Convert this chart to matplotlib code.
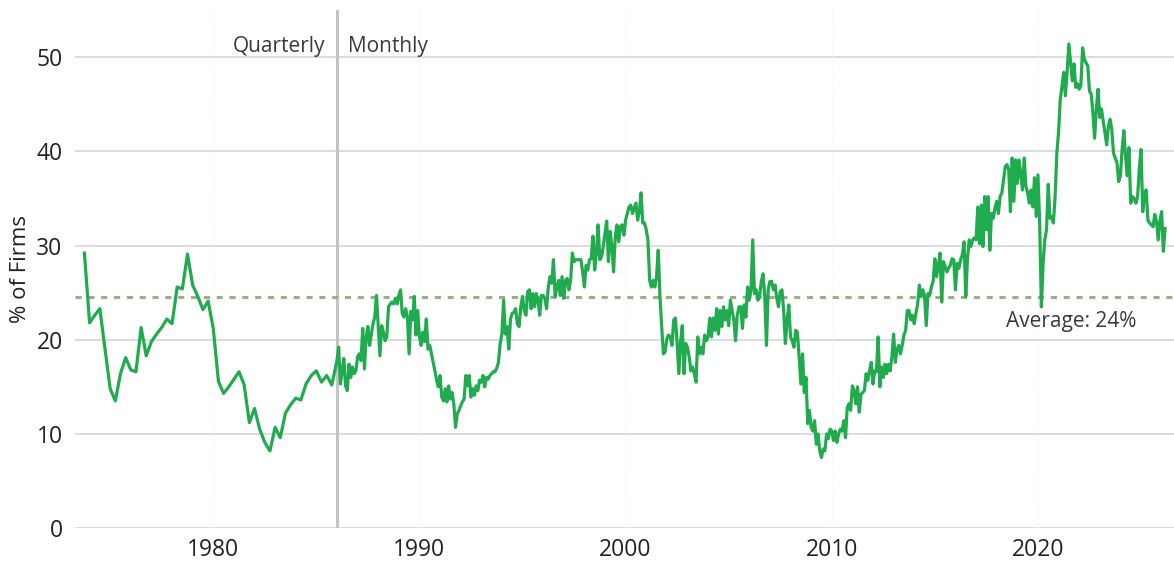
import numpy as np
import matplotlib
matplotlib.use("Agg")
import matplotlib.pyplot as plt

plt.rcParams['font.family'] = ['Open Sans', 'DejaVu Sans']

# quarterly readings, 1973 Q4 .. 1985 Q4
quarterly = [29.2, 21.8, 22.6, 23.3, 19.0, 14.8, 13.5, 16.4, 18.1, 16.8, 16.6, 21.3,
             18.3, 19.8, 20.6, 21.3, 22.2, 21.7, 25.6, 25.4, 29.1, 25.8, 24.6, 23.2,
             24.1, 21.2, 15.6, 14.3, 15.0, 15.8, 16.6, 15.2, 11.2, 12.7, 10.5, 9.1,
             8.2, 10.7, 9.6, 12.2, 13.1, 13.8, 13.6, 15.3, 16.2, 16.7, 15.5, 16.2, 15.2]
q_start = 1973.75

# monthly readings from Jan 1986
monthly = [
    17.8, 19.2, 15.3, 16.7, 18.0, 15.1, 14.6, 17.4, 16.0, 17.1, 16.4, 16.7,  # 1986
    18.2, 18.5, 17.8, 21.2, 16.9, 20.3, 21.4, 19.4, 20.6, 21.7, 22.4, 24.7,  # 1987
    21.4, 18.3, 21.5, 20.8, 19.9, 20.3, 23.5, 23.8, 24.0, 23.8, 24.4, 23.8,  # 1988
    24.7, 25.3, 22.8, 22.4, 23.3, 22.4, 18.5, 23.0, 22.1, 24.6, 20.5, 23.1,  # 1989
    20.3, 19.4, 20.8, 19.8, 22.2, 19.0, 19.4, 18.5, 17.6, 16.7, 15.7, 15.0,  # 1990
    16.2, 13.9, 13.5, 14.8, 13.4, 15.1, 13.7, 14.4, 13.2, 10.7, 12.1, 12.5,  # 1991
    13.0, 13.4, 13.7, 16.2, 15.1, 16.2, 13.9, 14.8, 14.1, 15.1, 14.6, 15.7,  # 1992
    15.5, 16.2, 15.0, 16.0, 15.8, 16.2, 16.4, 16.6, 16.6, 17.0, 17.6, 19.6,  # 1993
    20.6, 24.2, 20.6, 21.4, 19.0, 22.2, 22.8, 22.9, 23.3, 21.7, 21.4, 23.5,  # 1994
    24.6, 23.1, 22.6, 25.1, 25.3, 23.3, 24.9, 23.5, 24.9, 24.2, 22.6, 24.7,  # 1995
    24.7, 24.4, 23.3, 25.6, 26.7, 26.0, 28.5, 24.6, 25.6, 26.3, 24.7, 26.7,  # 1996
    24.4, 26.3, 26.5, 25.3, 26.3, 29.2, 28.3, 28.5, 28.5, 28.5, 28.5, 27.2,  # 1997
    25.6, 27.9, 27.4, 28.5, 28.6, 31.0, 27.4, 29.2, 32.2, 28.5, 28.8, 29.9,  # 1998
    31.3, 32.6, 28.3, 31.5, 29.9, 27.2, 31.0, 32.2, 30.4, 32.0, 32.2, 31.1,  # 1999
    32.7, 33.4, 34.1, 34.3, 33.4, 34.0, 34.5, 32.7, 33.6, 35.6, 32.4, 32.4,  # 2000
    31.7, 30.6, 26.3, 25.6, 26.3, 25.6, 26.7, 29.5, 24.6, 21.4, 18.5, 18.7,  # 2001
    20.1, 20.5, 20.3, 19.4, 22.1, 22.3, 19.6, 16.4, 19.8, 21.5, 16.4, 19.6,  # 2002
    19.2, 18.2, 16.7, 17.1, 16.4, 15.5, 20.3, 18.5, 19.2, 18.5, 20.5, 19.9,  # 2003
    20.3, 22.3, 20.3, 22.3, 21.0, 23.3, 20.6, 23.1, 21.4, 23.5, 22.1, 23.1,  # 2004
    21.5, 24.2, 23.1, 22.1, 19.9, 22.6, 23.5, 23.5, 21.2, 23.7, 22.4, 25.6,  # 2005
    24.2, 25.3, 30.6, 24.9, 25.3, 24.2, 24.6, 26.2, 27.0, 24.6, 19.4, 25.3,  # 2006
    26.2, 26.2, 25.3, 25.8, 24.4, 23.5, 25.1, 25.3, 23.1, 19.6, 22.1, 23.7,  # 2007
    20.3, 19.9, 19.2, 21.0, 20.8, 18.2, 15.3, 18.5, 14.4, 16.0, 11.1, 12.5,  # 2008
    10.7, 10.3, 11.4, 8.9, 10.0, 8.2, 7.5, 8.4, 8.2, 10.0, 9.5, 10.5,        # 2009
    10.3, 9.3, 10.3, 9.1, 10.0, 10.5, 10.3, 11.4, 9.6, 12.8, 13.2, 12.5,     # 2010
    15.1, 14.6, 13.2, 15.0, 12.3, 14.2, 14.4, 14.6, 16.4, 15.7, 16.7, 17.6,  # 2011
    15.3, 16.7, 16.6, 20.3, 15.0, 17.1, 16.0, 17.4, 16.4, 17.4, 16.7, 18.2,  # 2012
    20.6, 17.6, 19.0, 19.4, 18.5, 19.4, 20.5, 21.0, 23.1, 23.1, 22.1, 22.6,  # 2013
    21.7, 22.8, 23.8, 25.8, 24.6, 25.3, 24.7, 21.5, 24.9, 24.7, 25.6, 26.2,  # 2014
    28.6, 26.7, 27.8, 29.2, 24.0, 28.3, 27.8, 27.2, 27.6, 27.9, 28.6, 28.5,  # 2015
    25.3, 28.1, 27.6, 28.5, 29.0, 30.4, 24.6, 28.6, 30.6, 29.9, 30.6, 30.8,  # 2016
    30.6, 34.1, 30.2, 34.3, 29.9, 35.2, 31.7, 35.2, 29.5, 33.4, 32.9, 34.0,  # 2017
    34.7, 33.4, 35.2, 35.6, 37.0, 38.4, 38.6, 38.1, 33.6, 39.3, 34.7, 39.1,  # 2018
    36.6, 39.1, 37.5, 35.9, 39.3, 36.3, 35.6, 34.5, 35.9, 34.1, 37.2, 33.1,  # 2019
    37.5, 32.6, 23.5, 28.1, 30.6, 31.7, 36.5, 32.9, 33.1, 32.4, 35.2, 39.8,  # 2020
    42.0, 45.5, 46.9, 48.4, 45.9, 48.5, 51.4, 49.4, 47.5, 49.3, 46.8, 47.2,  # 2021
    46.6, 47.0, 51.0, 49.8, 49.4, 49.1, 46.4, 46.1, 44.1, 41.4, 44.5, 46.6,  # 2022
    43.6, 44.5, 43.2, 42.0, 40.7, 42.7, 43.4, 42.3, 39.8, 39.3, 38.8, 36.8,  # 2023
    37.4, 40.2, 42.2, 39.5, 37.4, 40.4, 34.5, 35.2, 35.0, 34.5, 35.2, 38.1,  # 2024
    40.2, 33.6, 35.6, 35.9, 32.7, 32.4, 32.2, 32.0, 33.3, 32.6, 30.6, 32.6,  # 2025
    33.6, 29.4, 31.8,                                                        # 2026
]
m_start = 1986.0

average = 24.5
switch_year = 1986.0
year_ticks = [1980, 1990, 2000, 2010, 2020]
value_ticks = [0, 10, 20, 30, 40, 50]

x_q = q_start + 0.25 * np.arange(len(quarterly))
x_m = m_start + np.arange(len(monthly)) / 12.0
x = np.concatenate([x_q, x_m])
y = np.concatenate([quarterly, monthly])

fig = plt.figure(figsize=(11.74, 5.63), dpi=100)
ax = fig.add_axes([0.064, 0.062, 0.936, 0.92])

for v in value_ticks:
    ax.axhline(v, color='#d9d9d9', lw=1.3, zorder=0)
for yr in year_ticks:
    ax.axvline(yr, color='#f0f0f0', lw=1, ls=(0, (1, 2)), zorder=0)

ax.axvline(switch_year, color='#c4c4c4', lw=2.2, zorder=1)
ax.axhline(average, color='#9caf84', lw=2.2, ls=(0, (2, 2.2)), zorder=2)
ax.plot(x, y, color='#21ab4f', lw=2.3, zorder=3, solid_joinstyle='round')

ax.text(switch_year - 0.55, 51.1, 'Quarterly', ha='right', va='center',
        fontsize=15, color='#3a3a3a')
ax.text(switch_year + 0.55, 51.1, 'Monthly', ha='left', va='center',
        fontsize=15, color='#3a3a3a')
ax.text(2021.6, 21.9, 'Average: 24%', ha='center', va='center',
        fontsize=15, color='#3a3a3a')

ax.set_xlim(1973.3, 2026.6)
ax.set_ylim(0, 55)
ax.set_xticks(year_ticks)
ax.set_yticks(value_ticks)
ax.tick_params(axis='both', length=0, labelsize=16.5, colors='#222222')
ax.tick_params(axis='y', pad=9)
ax.tick_params(axis='x', pad=7)
ax.set_ylabel('% of Firms', fontsize=16, color='#222222', labelpad=4)
for s in ax.spines.values():
    s.set_visible(False)

fig.savefig('out.png', dpi=100)
